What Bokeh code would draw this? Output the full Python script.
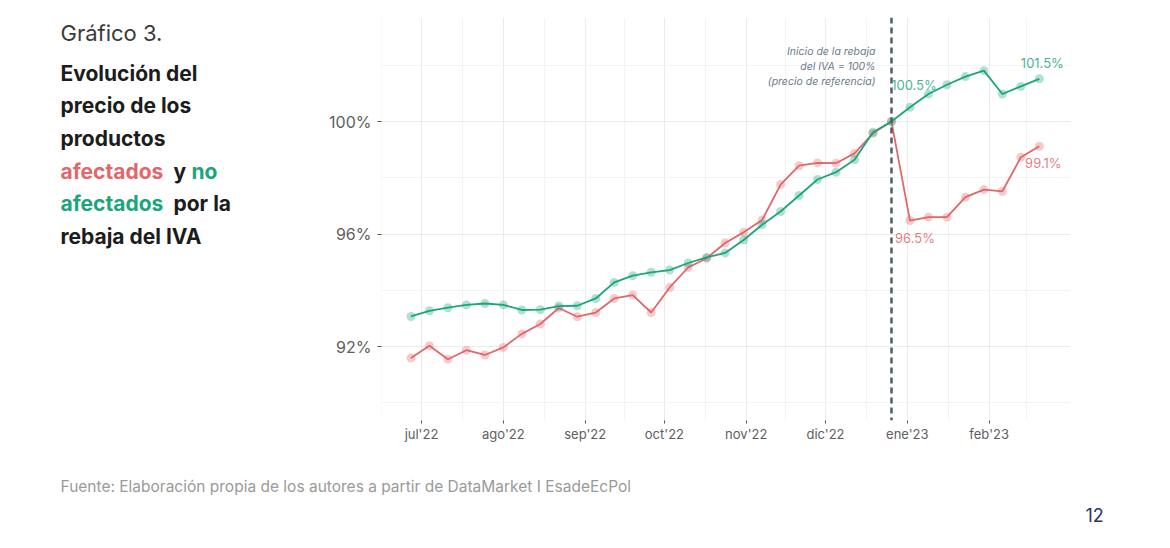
import pandas as pd
from bokeh.plotting import figure
from bokeh.models import Label, Span, FixedTicker, Range1d
from bokeh.layouts import row, column
from bokeh.embed import file_html
from bokeh.resources import INLINE

# ---------------- data ----------------
fechas = ["2022-06-27", "2022-07-04", "2022-07-11", "2022-07-18", "2022-07-25",
          "2022-08-01", "2022-08-08", "2022-08-15", "2022-08-22", "2022-08-29",
          "2022-09-05", "2022-09-12", "2022-09-19", "2022-09-26", "2022-10-03",
          "2022-10-10", "2022-10-17", "2022-10-24", "2022-10-31", "2022-11-07",
          "2022-11-14", "2022-11-21", "2022-11-28", "2022-12-05", "2022-12-12",
          "2022-12-19", "2022-12-26", "2023-01-02", "2023-01-09", "2023-01-16",
          "2023-01-23", "2023-01-30", "2023-02-06", "2023-02-13", "2023-02-20"]

afectados = [91.59, 92.03, 91.55, 91.87, 91.70, 91.97, 92.45, 92.80, 93.37, 93.06,
             93.21, 93.71, 93.83, 93.21, 94.10, 94.81, 95.14, 95.68, 96.06, 96.50,
             97.76, 98.43, 98.53, 98.52, 98.87, 99.58, 100.0, 96.48, 96.60, 96.60,
             97.31, 97.58, 97.52, 98.73, 99.12]

no_afectados = [93.07, 93.27, 93.38, 93.48, 93.53, 93.48, 93.30, 93.31, 93.44, 93.45,
                93.71, 94.28, 94.52, 94.64, 94.72, 94.97, 95.17, 95.33, 95.79, 96.33,
                96.80, 97.37, 97.94, 98.20, 98.64, 99.62, 100.0, 100.51, 100.98, 101.31,
                101.60, 101.81, 100.98, 101.25, 101.52]

meses = ["2022-07-01", "2022-08-01", "2022-09-01", "2022-10-01", "2022-11-01",
         "2022-12-01", "2023-01-01", "2023-02-01"]
etiquetas_meses = ["jul'22", "ago'22", "sep'22", "oct'22", "nov'22", "dic'22",
                   "ene'23", "feb'23"]
meses_extremos = ["2022-06-01", "2023-03-01"]

y_ticks = [92, 96, 100]
y_etiquetas = ["92%", "96%", "100%"]
y_menores = [90, 94, 98, 102]

fecha_rebaja = "2022-12-26"

# ---------------- helpers ----------------
origen = pd.Timestamp("2022-07-01")


def dias(lista):
    return [(pd.Timestamp(d) - origen).days for d in lista]


x = dias(fechas)
x_ticks = dias(meses)
todos_meses = dias([meses_extremos[0]] + meses + [meses_extremos[1]])
x_menores = [(a + b) / 2 for a, b in zip(todos_meses[:-1], todos_meses[1:])]
x_rebaja = dias([fecha_rebaja])[0]

ROJO = "#e2666a"
VERDE = "#1ba57c"
NEGRO = "#1c1c1c"
FONT = "Inter"

TOTAL_W, TOTAL_H = 1154, 532
LEFT_W = 300
TOP_H = 460
MAIN_W = TOTAL_W - LEFT_W
BOT_H = TOTAL_H - TOP_H

# frame of main chart (in main-figure pixels)
FL, FR, FT, FB = 381 - LEFT_W, 1070 - LEFT_W, 17, 420
X0, X1 = -15.15, 245.8
Y0, Y1 = 89.37, 103.70


def px_y(py):
    return Y1 - (py - FT) / (FB - FT) * (Y1 - Y0)


p = figure(width=MAIN_W, height=TOP_H, output_backend="svg", toolbar_location=None,
           x_range=Range1d(X0, X1), y_range=Range1d(Y0, Y1),
           min_border_left=FL, min_border_right=MAIN_W - FR,
           min_border_top=FT, min_border_bottom=TOP_H - FB)
p.outline_line_color = None
p.background_fill_color = "white"
p.border_fill_color = "white"

# axes
xt = FixedTicker(ticks=x_ticks, minor_ticks=x_menores)
yt = FixedTicker(ticks=y_ticks, minor_ticks=y_menores)
p.xaxis.ticker = xt
p.yaxis.ticker = yt
p.xgrid.ticker = xt
p.ygrid.ticker = yt
p.xaxis.major_label_overrides = {t: l for t, l in zip(x_ticks, etiquetas_meses)}
p.yaxis.major_label_overrides = {t: l for t, l in zip(y_ticks, y_etiquetas)}
p.axis.axis_line_color = None
p.axis.minor_tick_line_color = None
p.axis.major_tick_line_color = "#555555"
p.axis.major_tick_in = 0
p.xaxis.major_tick_out = 3
p.yaxis.major_tick_out = 4
p.xaxis.major_label_standoff = 1
p.yaxis.major_label_standoff = 6
p.xaxis.major_label_text_font = FONT
p.yaxis.major_label_text_font = FONT
p.xaxis.major_label_text_font_size = "13px"
p.yaxis.major_label_text_font_size = "16px"
p.xaxis.major_label_text_color = "#5e5e5e"
p.yaxis.major_label_text_color = "#5e5e5e"

for g in (p.xgrid, p.ygrid):
    g.grid_line_color = "#ebebeb"
    g.grid_line_width = 1
    g.minor_grid_line_color = "#f3f3f3"
    g.minor_grid_line_width = 1

# series
p.line(x, afectados, line_color=ROJO, line_width=1.8)
p.scatter(x, afectados, size=9, fill_color=ROJO, fill_alpha=0.35, line_color=None)
p.line(x, no_afectados, line_color=VERDE, line_width=1.8)
p.scatter(x, no_afectados, size=9, fill_color=VERDE, fill_alpha=0.35, line_color=None)

# vertical reference line
p.add_layout(Span(location=x_rebaja, dimension="height", line_color="#4f5c6a",
                  line_width=2.5, line_dash="6 4"))

# annotation near line
for txt, py in [("Inicio de la rebaja", 51), ("del IVA = 100%", 66),
                ("(precio de referencia)", 81)]:
    p.add_layout(Label(x=x_rebaja, y=px_y(py), x_offset=-16, text=txt,
                       text_font=FONT, text_font_style="italic",
                       text_font_size="10.5px", text_color="#6a7b8d",
                       text_align="right", text_baseline="middle"))

# value labels
i_post = x.index(dias(["2023-01-02"])[0])
i_last = len(x) - 1
val_labels = [
    (x[i_post], no_afectados[i_post], 4, 22, VERDE),
    (x[i_post], afectados[i_post], 5, -17, ROJO),
    (x[i_last], no_afectados[i_last], 3, 16, VERDE),
    (x[i_last], afectados[i_last], 4, -17, ROJO),
]
for xx, yy, dx, dy, col in val_labels:
    p.add_layout(Label(x=xx, y=yy, x_offset=dx, y_offset=dy, text=f"{yy:.1f}%",
                       text_font=FONT, text_font_size="13px", text_color=col,
                       text_alpha=0.85, text_align="center", text_baseline="middle"))


def panel(w, h, top=0, bottom=0):
    # text panel whose data coordinates equal page pixels (y downwards)
    f = figure(width=w, height=h, output_backend="svg", toolbar_location=None,
               x_range=Range1d(0, w), y_range=Range1d(h - bottom, top),
               x_axis_type=None, y_axis_type=None, min_border=0,
               min_border_top=top, min_border_bottom=bottom)
    f.outline_line_color = None
    f.grid.visible = False
    f.background_fill_color = "white"
    f.border_fill_color = "white"
    return f


# left text panel (frame aligned with main chart frame)
izq = panel(LEFT_W, TOP_H, top=FT, bottom=TOP_H - FB)
izq.add_layout(Label(x=60, y=32, text="Gráfico 3.", text_font=FONT,
                     text_font_size="22px", text_color="#3a3a3a",
                     text_align="left", text_baseline="middle"))

titulo = [
    [("Evolución del", NEGRO, 60)],
    [("precio de los", NEGRO, 60)],
    [("productos", NEGRO, 60)],
    [("afectados", ROJO, 60), ("y", NEGRO, 173), ("no", VERDE, 191)],
    [("afectados", VERDE, 60), ("por la", NEGRO, 173)],
    [("rebaja del IVA", NEGRO, 60)],
]
ys = [73, 105, 138, 171, 203, 236]
for linea, py in zip(titulo, ys):
    for txt, col, px in linea:
        izq.add_layout(Label(x=px, y=py, text=txt, text_font=FONT,
                             text_font_style="bold", text_font_size="21px",
                             text_color=col, text_align="left", text_baseline="middle"))

# bottom text panel
abajo = panel(TOTAL_W, BOT_H)
abajo.add_layout(Label(x=60, y=486 - TOP_H,
                       text="Fuente: Elaboración propia de los autores a partir de DataMarket I EsadeEcPol",
                       text_font=FONT, text_font_size="15.5px", text_color="#9a9a9a",
                       text_align="left", text_baseline="middle"))
abajo.add_layout(Label(x=1085, y=514 - TOP_H, text="12", text_font=FONT,
                       text_font_size="18px", text_color="#2d3660",
                       text_align="left", text_baseline="middle"))

layout = column(row(izq, p, spacing=0), abajo, spacing=0)

with open("out.html", "w", encoding="utf-8") as f:
    f.write(file_html(layout, INLINE))
